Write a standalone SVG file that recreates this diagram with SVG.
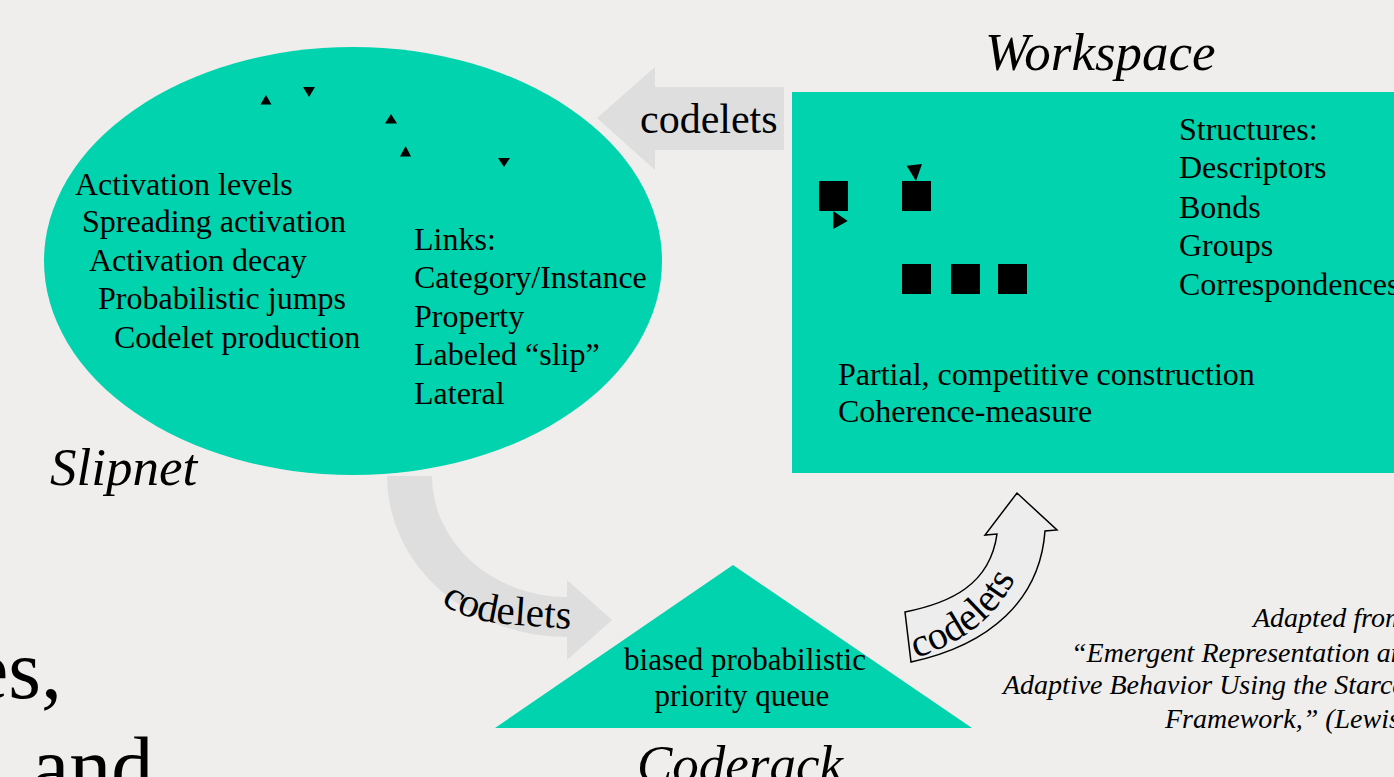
<svg xmlns="http://www.w3.org/2000/svg" width="1394" height="777" viewBox="0 0 1394 777">
<style>
.t{font-family:"Liberation Serif","Times New Roman",serif;fill:#000}
.b{font-size:32px}
.ti{font-size:53px;font-style:italic}
.cit{font-size:28px;font-style:italic}
.teal{fill:#00d3ad}
.arr{fill:#dedede}
</style>
<defs>
<path id="p1" d="M 441 602 Q 462 620 505 624 L 600 631"/>
<path id="p2" d="M 916 658 C 965 642 1010 612 1026 548"/>
</defs>
<rect width="1394" height="777" fill="#efeeec"/>
<g id="background-text">
<text class="t" x="-29" y="698" font-size="84">es,</text>
<text class="t" x="32" y="795" font-size="84">and</text>
</g>
<g id="connectors">
<path class="arr" d="M784,87 L655,87 L655,67 L597,118 L655,170 L655,150 L784,150 Z"/>
<text class="t" x="640" y="133" font-size="42">codelets</text>
<path class="arr" d="M387,476 L432,476 A135,121 0 0 0 567,597 L567,580 L612,620 L567,660 L567,637 A180,161 0 0 1 387,476 Z"/>
<text class="t" font-size="41"><textPath href="#p1">codelets</textPath></text>
<path d="M905,612 C950,603 990,585 997,534 L985,535 L1017,493 L1057,530 L1045,531 C1040,600 990,645 911,662 Z" fill="#ededed" stroke="#000" stroke-width="1.5"/>
<text class="t" font-size="40"><textPath href="#p2">codelets</textPath></text>
</g>
<g id="slipnet">
<ellipse class="teal" cx="353" cy="261" rx="309" ry="214"/>
<g fill="#000">
<polygon points="260.5,104.5 266,95 271.5,104.5"/>
<polygon points="303,87 315,87 309,97"/>
<polygon points="385,123.5 391,114 397,123.5"/>
<polygon points="400,156.5 405.7,146 411,156.5"/>
<polygon points="498,158 510,158 504,167"/>
</g>
<text class="t b" x="75" y="195">Activation levels</text>
<text class="t b" x="82" y="232">Spreading activation</text>
<text class="t b" x="89" y="271">Activation decay</text>
<text class="t b" x="98" y="309">Probabilistic jumps</text>
<text class="t b" x="114" y="348">Codelet production</text>
<text class="t b" x="414" y="250">Links:</text>
<text class="t b" x="414" y="288">Category/Instance</text>
<text class="t b" x="414" y="327">Property</text>
<text class="t b" x="414" y="365">Labeled “slip”</text>
<text class="t b" x="414" y="404">Lateral</text>
<text class="t ti" x="50" y="485">Slipnet</text>
</g>
<g id="workspace">
<rect class="teal" x="792" y="92" width="610" height="381"/>
<g fill="#000">
<rect x="819" y="181" width="29" height="30"/>
<rect x="902" y="181" width="29" height="30"/>
<rect x="902" y="264" width="29" height="30"/>
<rect x="951" y="264" width="29" height="30"/>
<rect x="998" y="264" width="29" height="30"/>
<polygon points="833.3,211 847.7,221 833.3,229"/>
<polygon points="906.7,165.7 922,164 916,181"/>
</g>
<text class="t b" x="1179" y="140">Structures:</text>
<text class="t b" x="1179" y="178">Descriptors</text>
<text class="t b" x="1179" y="218">Bonds</text>
<text class="t b" x="1179" y="256">Groups</text>
<text class="t b" x="1179" y="295">Correspondences</text>
<text class="t b" x="838" y="385">Partial, competitive construction</text>
<text class="t b" x="838" y="422">Coherence-measure</text>
<text class="t ti" x="985" y="70">Workspace</text>
</g>
<g id="coderack">
<polygon class="teal" points="733,565 972,728 495,728"/>
<text class="t" x="745" y="670" font-size="31" text-anchor="middle">biased probabilistic</text>
<text class="t" x="742" y="706" font-size="31" text-anchor="middle">priority queue</text>
<text class="t ti" x="637" y="782">Coderack</text>
</g>
<g id="citation">
<text class="t cit" x="1253" y="627">Adapted from</text>
<text class="t cit" x="1071" y="662">“Emergent Representation and</text>
<text class="t cit" x="1003" y="694">Adaptive Behavior Using the Starcat</text>
<text class="t cit" x="1165" y="728">Framework,” (Lewis</text>
</g>
</svg>
